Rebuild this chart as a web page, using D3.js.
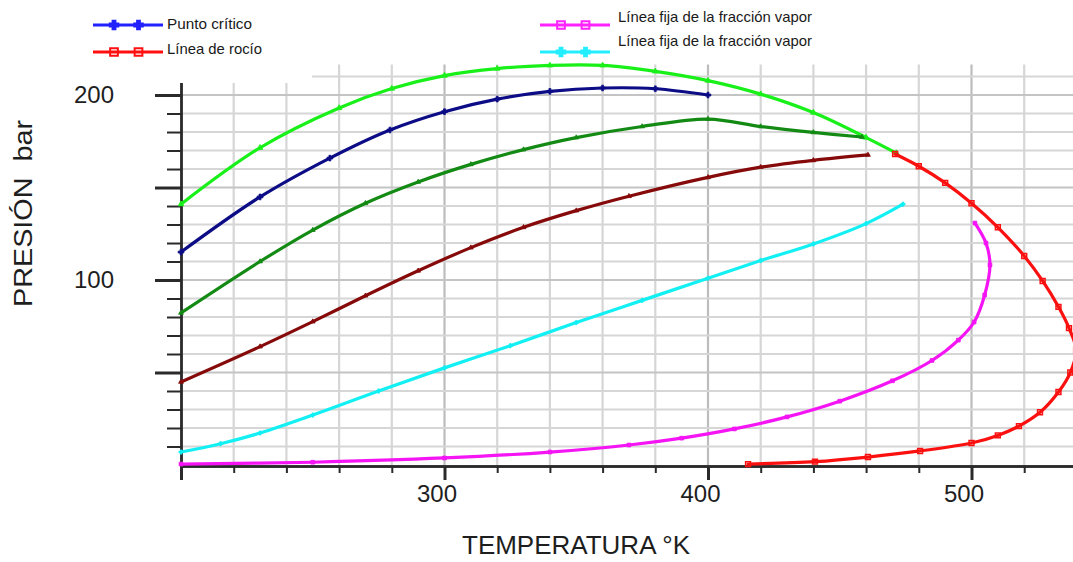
<!DOCTYPE html>
<html>
<head>
<meta charset="utf-8">
<script src="https://cdn.jsdelivr.net/npm/d3@7"></script>
<style>
  body { margin: 0; background: #fff; }
  svg { display: block; }
  text { font-family: "Liberation Sans", Arial, sans-serif; }
</style>
</head>
<body>
<svg id="chart" width="1073" height="562"></svg>
<script>
// Temperature (K) / pressure (bar) readings for each curve of the phase envelope
const bubbleT = [200, 230, 260, 280, 300, 320, 340, 360, 380, 400, 420, 440, 460, 471.5];
const bubbleP = [141, 171.5, 193, 203.5, 210.5, 214.3, 216, 216, 212.8, 207.8, 200.5, 190.5, 177, 168.6];

const navyT = [200, 230, 256.5, 279.3, 300, 320, 340, 360, 380, 400];
const navyP = [115.1, 144.9, 165.9, 181.1, 191, 197.8, 202, 203.8, 203.4, 200];

const greenT = [200, 230, 250, 270, 290, 310, 330, 350, 375, 400, 420, 440, 458.4];
const greenP = [82.2, 110, 127, 141.5, 153, 162.5, 170.5, 177, 183, 187, 183, 179.8, 177.3];

const maroonT = [200, 230, 250, 270, 290, 310, 330, 350, 370, 400, 420, 440, 460.7];
const maroonP = [44.9, 64, 77.5, 91.5, 105, 117.5, 128.5, 137.5, 145.3, 155.5, 161, 164.7, 167.6];

const cyanT = [200, 215, 230, 250, 275, 300, 325, 350, 375, 400, 420, 440, 460, 474];
const cyanP = [7, 11.5, 17.3, 27, 40, 52.5, 64.5, 77, 89, 101, 110.5, 119.5, 130.5, 141];

const magentaT = [200, 250, 300, 340, 370, 390, 410, 430, 450, 470, 485, 495, 501, 505, 507, 505.5, 501.3];
const magentaP = [0.5, 1.5, 3.8, 7, 10.8, 14.5, 19.5, 26, 34.5, 45.5, 56.5, 67.5, 77.3, 91.9, 108.1, 120, 130.8];

const dewT = [471, 480, 490, 500, 510, 520, 527, 533, 537, 539.7, 537.5, 533, 526, 518, 510, 500, 480.5, 460.7, 440.6, 415.2];
const dewP = [168.1, 161.5, 152.5, 141.5, 128.5, 113, 99.5, 85.5, 74, 62, 50, 39.5, 28.5, 21, 16, 11.9, 7.6, 4.3, 1.8, 0.5];

// Axis ticks and labels
const xLabelTicks = [300, 400, 500];
const xMajorTicks = [200, 300, 400, 500];
const yLabelTicks = [100, 200];
const yMajorTicks = [50, 100, 150, 200];

const legendLeft = ["Punto crítico", "Línea de rocío"];
const legendRight = ["Línea fija de la fracción vapor", "Línea fija de la fracción vapor"];
const xTitle = "TEMPERATURA °K";
const yTitle = "PRESIÓN  bar";

const svg = d3.select("#chart");

const x = d3.scaleLinear().domain([200, 540]).range([181, 1076.9]);
const y = d3.scaleLinear().domain([0, 216.5]).range([465, 64.5]);

// grid
const grid = svg.append("g");
grid.selectAll("line.v").data(d3.range(220, 541, 20)).join("line")
  .attr("x1", d => x(d)).attr("x2", d => x(d))
  .attr("y1", y(0)).attr("y2", y(216.5))
  .attr("stroke", d => d % 100 === 0 ? "#bcbcbc" : "#d6d6d6")
  .attr("stroke-width", 2.2);
grid.selectAll("line.h").data(d3.range(10, 211, 10)).join("line")
  .attr("x1", x(200)).attr("x2", x(540))
  .attr("y1", d => y(d)).attr("y2", d => y(d))
  .attr("stroke", d => d % 50 === 0 ? "#c4c4c4" : "#d6d6d6")
  .attr("stroke-width", 2.2);

// axes
function styleAxis(g, w) {
  g.select(".domain").attr("stroke", "#2a2a2a").attr("stroke-width", w);
  g.selectAll(".tick line").attr("stroke", "#2a2a2a");
  g.selectAll(".tick text").attr("fill", "#1e1e1e").attr("font-size", 24)
    .attr("font-family", "'Liberation Sans', Arial, sans-serif");
}

const yMinor = svg.append("g").attr("transform", `translate(${x(200)},0)`)
  .call(d3.axisLeft(y).tickValues(d3.range(10, 211, 10)).tickSize(14).tickSizeOuter(0).tickFormat(""));
styleAxis(yMinor, 2.4);
yMinor.selectAll(".tick line").attr("stroke-width", 2);

const yMajor = svg.append("g").attr("transform", `translate(${x(200)},0)`)
  .call(d3.axisLeft(y).tickValues(yMajorTicks).tickSize(26).tickSizeOuter(0).tickPadding(41)
    .tickFormat(d => yLabelTicks.includes(d) ? d : ""));
styleAxis(yMajor, 2.4);
yMajor.selectAll(".tick line").attr("stroke-width", 3);

const xMinor = svg.append("g").attr("transform", `translate(0,${y(0) + 1})`)
  .call(d3.axisBottom(x).tickValues(d3.range(200, 541, 20)).tickSize(7).tickSizeOuter(0).tickFormat(""));
styleAxis(xMinor, 2.4);
xMinor.selectAll(".tick line").attr("stroke-width", 2);

const xMajor = svg.append("g").attr("transform", `translate(0,${y(0) + 1})`)
  .call(d3.axisBottom(x).tickValues(xMajorTicks).tickSize(14).tickSizeOuter(0).tickPadding(5)
    .tickFormat(d => xLabelTicks.includes(d) ? d : ""));
styleAxis(xMajor, 2.4);
xMajor.selectAll(".tick line").attr("stroke-width", 3);
xMajor.selectAll(".tick text").attr("dx", -8);

// legend panel covering the upper-left corner
svg.append("rect").attr("x", 70).attr("y", 0).attr("width", 242).attr("height", 83).attr("fill", "#fff");

// axis titles
svg.append("text").attr("x", 462).attr("y", 554)
  .attr("font-size", 25).attr("fill", "#1e1e1e")
  .attr("textLength", 228).attr("lengthAdjust", "spacingAndGlyphs")
  .text(xTitle);
svg.append("text").attr("transform", "translate(32,307) rotate(-90)")
  .attr("font-size", 26).attr("fill", "#1e1e1e")
  .style("white-space", "pre")
  .attr("textLength", 187).attr("lengthAdjust", "spacingAndGlyphs")
  .text(yTitle);

// curves
const line = d3.line().x(d => x(d[0])).y(d => y(d[1])).curve(d3.curveCatmullRom.alpha(0.5));
const series = [
  { T: bubbleT, P: bubbleP, color: "#19f019", sym: d3.symbolTriangle, size: 14 },
  { T: navyT, P: navyP, color: "#0c0c86", sym: d3.symbolCross, size: 18 },
  { T: greenT, P: greenP, color: "#138a13", sym: d3.symbolTriangle, size: 10 },
  { T: maroonT, P: maroonP, color: "#860a0a", sym: d3.symbolTriangle, size: 10 },
  { T: cyanT, P: cyanP, color: "#12f0f4", sym: d3.symbolCross, size: 10 },
  { T: magentaT, P: magentaP, color: "#f414f4", sym: d3.symbolSquare, size: 14 },
  { T: dewT, P: dewP, color: "#fb1010", sym: d3.symbolSquare, size: 24, open: true }
];

series.forEach(s => {
  const pts = s.T.map((t, i) => [t, s.P[i]]);
  svg.append("path").datum(pts).attr("d", line)
    .attr("fill", "none").attr("stroke", s.color).attr("stroke-width", 3.2)
    .attr("stroke-linejoin", "round").attr("stroke-linecap", "round");
  svg.append("g").selectAll("path").data(pts).join("path")
    .attr("transform", d => `translate(${x(d[0])},${y(d[1])})`)
    .attr("d", d3.symbol().type(s.sym).size(s.size))
    .attr("fill", s.open ? "none" : s.color)
    .attr("stroke", s.color).attr("stroke-width", s.open ? 1.5 : 0.8);
});

// legend
function legendEntry(x0, x1, ly, color, sym, size, open, label, tx, ty, tlen) {
  const g = svg.append("g");
  g.append("line").attr("x1", x0).attr("x2", x1).attr("y1", ly).attr("y2", ly)
    .attr("stroke", color).attr("stroke-width", 3);
  const m1 = x0 + (x1 - x0) * 0.3, m2 = x0 + (x1 - x0) * 0.65;
  g.selectAll("path").data([m1, m2]).join("path")
    .attr("transform", d => `translate(${d},${ly})`)
    .attr("d", d3.symbol().type(sym).size(size))
    .attr("fill", open ? "none" : color).attr("stroke", color).attr("stroke-width", 2);
  g.append("text").attr("x", tx).attr("y", ty).attr("font-size", 14.5).attr("fill", "#1a1a1a")
    .attr("textLength", tlen).attr("lengthAdjust", "spacingAndGlyphs").text(label);
}
legendEntry(93, 163, 25, "#2222ff", d3.symbolCross, 40, false, legendLeft[0], 167, 29, 85);
legendEntry(93, 163, 52, "#ff1010", d3.symbolSquare, 60, true, legendLeft[1], 167, 54, 95);
legendEntry(540, 610, 25, "#ff22ff", d3.symbolSquare, 60, true, legendRight[0], 618, 22, 194);
legendEntry(540, 610, 52, "#22eeff", d3.symbolCross, 40, false, legendRight[1], 618, 46, 194);
</script>
</body>
</html>
